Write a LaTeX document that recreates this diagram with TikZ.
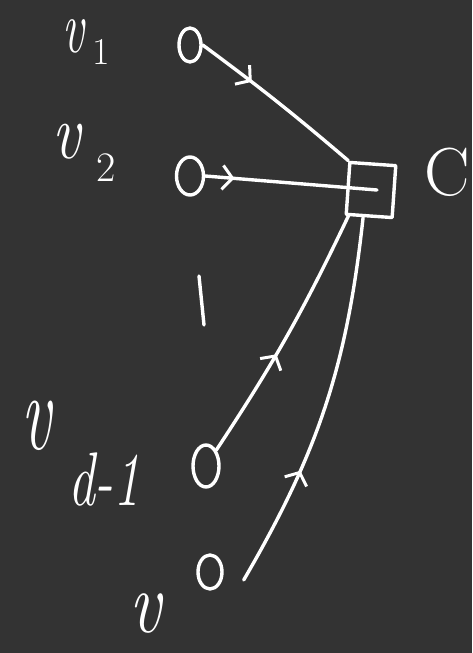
\documentclass[tikz,border=0pt]{standalone}
\usepackage{fontspec}
\usetikzlibrary{shapes.geometric,arrows.meta,decorations.markings,calc}
\definecolor{bg}{HTML}{333333}
\begin{document}
\begin{tikzpicture}[x=1pt,y=-1pt,
  ink/.style={draw=white,line width=3.4pt,line cap=round,line join=round},
  varnode/.style={ink,ellipse,inner sep=0pt},
  chknode/.style={ink,rectangle,minimum width=46pt,minimum height=52pt,inner sep=0pt,rotate=-4},
  lbl/.style={text=white,inner sep=0pt},
  midarrow/.style={postaction={decorate,decoration={markings,
     mark=at position #1 with {\arrow[white,line width=3pt]{Straight Barb[length=10pt,width=24pt]}}}}}
]
\fill[bg] (0,0) rectangle (472,653);
\useasboundingbox (0,0) rectangle (472,653);

% variable nodes
\node[varnode,minimum width=22pt,minimum height=34pt] (v1) at (190,45) {};
\node[varnode,minimum width=27pt,minimum height=38pt] (v2) at (190,176) {};
\node[varnode,minimum width=26pt,minimum height=42pt] (vd1) at (206,466) {};
\node[varnode,minimum width=24pt,minimum height=34pt] (vd) at (210,572) {};

% check node
\node[chknode] (C) at (371,190) {};

% labels
\node[lbl,font=\fontsize{44}{44}\selectfont\itshape] (l1) at (73,36) {\scalebox{1.1}[1.7]{v}};
\node[lbl,font=\fontsize{38}{38}\selectfont] (l1s) at (101,52) {1};
\node[lbl,font=\fontsize{78}{78}\selectfont\itshape] (l2) at (67,142) {\scalebox{0.8}[1]{v}};
\node[lbl,font=\fontsize{42}{42}\selectfont] (l2s) at (106,168) {2};
\node[lbl,font=\fontsize{68}{68}\selectfont] (lc) at (447,172) {C};
\node[lbl,font=\fontsize{110}{110}\selectfont\itshape] (l3) at (36,426) {\scalebox{0.6}[1]{v}};
\node[lbl,font=\fontsize{76}{76}\selectfont\itshape] (l3s) at (104,480) {\scalebox{0.7}[1]{d-1}};
\node[lbl,font=\fontsize{88}{88}\selectfont\itshape] (l4) at (145,614) {\scalebox{0.8}[1]{v}};

% vertical dots stroke
\draw[ink] (199,276) -- (204,325);

% edges
\draw[ink,midarrow=0.33] (v1.east) to[bend left=2] (C.north west);
\draw[ink,midarrow=0.17] (v2.east) -- ($(C.center)+(6,0)$);
\draw[ink,midarrow=0.42] (vd1.north east) to[bend right=4] ($(C.south west)+(4,0)$);
\draw[ink,midarrow=0.32] ($(vd.east)+(20,8)$) to[bend right=12] ($(C.south)+(-6,0)$);
\end{tikzpicture}
\end{document}
